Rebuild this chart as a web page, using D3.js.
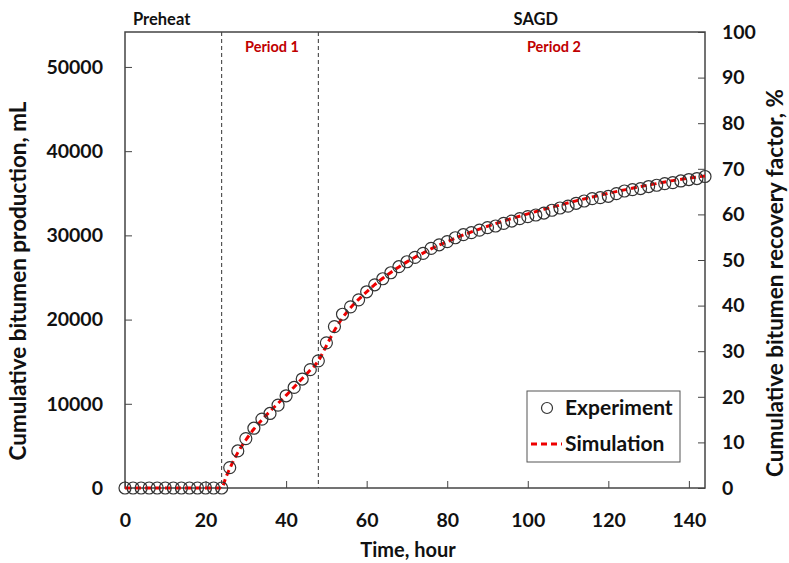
<!DOCTYPE html>
<html>
<head>
<meta charset="utf-8">
<script src="https://cdn.jsdelivr.net/npm/d3@7/dist/d3.min.js"></script>
<style>
html,body{margin:0;padding:0;background:#fff;}
svg{display:block;font-family:Lato,"Open Sans",sans-serif;font-weight:bold;}
</style>
</head>
<body>
<svg id="chart" width="789" height="563"></svg>
<script>
// ---- data ----
const expTime = [0,2,4,6,8,10,12,14,16,18,20,22,24,26,28,30,32,34,36,38,40,42,44,46,48,50,52,54,56,58,60,62,64,66,68,70,72,74,76,78,80,82,84,86,88,90,92,94,96,98,100,102,104,106,108,110,112,114,116,118,120,122,124,126,128,130,132,134,136,138,140,142,144];
const expProd = [0,0,0,0,0,0,0,0,0,0,0,0,0,2420,4400,5870,7100,8180,8850,9840,10950,11940,12940,14050,15100,17240,19170,20630,21510,22340,23300,24130,24850,25560,26280,26870,27380,27860,28450,28880,29260,29720,30080,30320,30630,30920,31110,31430,31700,31990,32230,32420,32650,32980,33250,33470,33810,34080,34370,34490,34640,34960,35270,35440,35560,35800,35950,36150,36270,36460,36630,36750,36990];
const simTime = [0,24,25,26,28,30,32,34,36,38,40,42,44,46,48,50,52,54,56,58,60,62,64,66,68,70,72,74,76,78,80,84,88,92,96,100,104,108,112,116,120,124,128,132,136,140,144];
const simProd = [0,0,1200,2300,4200,5700,7000,8100,9100,10050,11000,12000,13000,14000,15100,16900,18700,20200,21400,22400,23300,24150,24900,25600,26250,26850,27400,27900,28400,28850,29250,30050,30750,31400,32000,32550,33100,33600,34100,34550,35000,35400,35800,36150,36500,36800,37050];
const xTicks = [0,20,40,60,80,100,120,140];
const yLeftTicks = [0,10000,20000,30000,40000,50000];
const yRightTicks = [0,10,20,30,40,50,60,70,80,90,100];
const periodBounds = [24,48];
const topLabels = [{t:"Preheat", x:0, anchor:"start"},{t:"SAGD", x:102, anchor:"middle"}];
const periodLabels = [{t:"Period 1", x:36.5},{t:"Period 2", x:106.5}];
const xTitle = "Time, hour";
const yLeftTitle = "Cumulative bitumen production, mL";
const yRightTitle = "Cumulative bitumen recovery factor, %";
const legendLabels = ["Experiment","Simulation"];

// ---- layout ----
const L = 125, R = 705, T = 32, B = 488;
const svg = d3.select("#chart");
const x = d3.scaleLinear().domain([0,144]).range([L,R]);
const yL = d3.scaleLinear().domain([0,54150]).range([B,T]);
const yR = d3.scaleLinear().domain([0,100]).range([B,T]);

// period divider lines
svg.selectAll("line.period").data(periodBounds).join("line")
  .attr("x1",d=>x(d)).attr("x2",d=>x(d)).attr("y1",T).attr("y2",B)
  .attr("stroke","#333").attr("stroke-width",1).attr("stroke-dasharray","4,3");

// axes
const ax = svg.append("g").attr("transform",`translate(0,${B})`)
  .call(d3.axisBottom(x).tickValues(xTicks).tickSizeInner(-7).tickSizeOuter(0).tickPadding(25));
const ayl = svg.append("g").attr("transform",`translate(${L},0)`)
  .call(d3.axisLeft(yL).tickValues(yLeftTicks).tickFormat(d3.format("d")).tickSizeInner(-7).tickSizeOuter(0).tickPadding(22));
const ayr = svg.append("g").attr("transform",`translate(${R},0)`)
  .call(d3.axisRight(yR).tickValues(yRightTicks).tickSizeInner(-7).tickSizeOuter(0).tickPadding(17));
[ax,ayl,ayr].forEach(g=>{
  g.select(".domain").remove();
  g.selectAll("line").attr("stroke","#444").attr("stroke-width",1);
  g.selectAll("text").attr("font-family","Lato, 'Open Sans', sans-serif")
    .attr("font-weight","bold").attr("font-size",19.5).attr("fill","#111");
});

// frame
svg.append("rect").attr("x",L).attr("y",T).attr("width",R-L).attr("height",B-T)
  .attr("fill","none").attr("stroke","#444").attr("stroke-width",1.5);

// simulation line
svg.append("path").datum(simTime.map((t,i)=>[t,simProd[i]]))
  .attr("d",d3.line().x(d=>x(d[0])).y(d=>yL(d[1])).curve(d3.curveMonotoneX))
  .attr("fill","none").attr("stroke","#ee0000").attr("stroke-width",3)
  .attr("stroke-dasharray","6,4");

// experiment points
svg.selectAll("circle.exp").data(expTime.map((t,i)=>[t,expProd[i]])).join("circle")
  .attr("cx",d=>x(d[0])).attr("cy",d=>yL(d[1])).attr("r",6)
  .attr("fill","none").attr("stroke","#333").attr("stroke-width",1.2);

// top labels
svg.selectAll("text.top").data(topLabels).join("text")
  .attr("x",d=>d.anchor==="start"?133:x(d.x)).attr("y",25)
  .attr("text-anchor",d=>d.anchor).attr("font-size",16.5).attr("fill","#111").text(d=>d.t);
svg.selectAll("text.per").data(periodLabels).join("text")
  .attr("x",d=>x(d.x)).attr("y",52).attr("text-anchor","middle")
  .attr("font-size",14.5).attr("fill","#c00000").text(d=>d.t);

// axis titles
svg.append("text").attr("x",408).attr("y",557).attr("text-anchor","middle")
  .attr("font-size",20).attr("fill","#111").text(xTitle);
svg.append("text").attr("transform",`translate(26,281) rotate(-90)`)
  .attr("text-anchor","middle").attr("font-size",22.5).attr("fill","#111").text(yLeftTitle);
svg.append("text").attr("transform",`translate(783,283) rotate(-90)`)
  .attr("text-anchor","middle").attr("font-size",22.5).attr("fill","#111").text(yRightTitle);

// legend
const lg = svg.append("g");
lg.append("rect").attr("x",527).attr("y",391).attr("width",153).attr("height",71)
  .attr("fill","#fff").attr("stroke","#555").attr("stroke-width",1);
lg.append("circle").attr("cx",547).attr("cy",408).attr("r",5.5)
  .attr("fill","none").attr("stroke","#333").attr("stroke-width",1.2);
lg.append("line").attr("x1",531).attr("x2",562).attr("y1",444).attr("y2",444)
  .attr("stroke","#ee0000").attr("stroke-width",3).attr("stroke-dasharray","6,4");
lg.selectAll("text").data(legendLabels).join("text")
  .attr("x",565).attr("y",(d,i)=>415+i*36).attr("font-size",21).attr("fill","#111").text(d=>d);
</script>
</body>
</html>
